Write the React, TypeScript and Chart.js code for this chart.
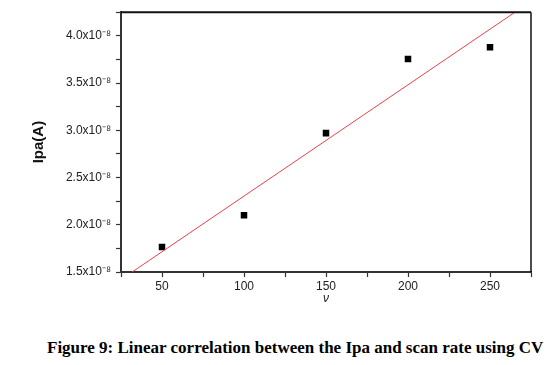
import React, { useEffect, useRef } from "react";
import { Chart, registerables } from "chart.js";

Chart.register(...registerables);

// scan rate ν (mV/s)
const scanRates = [50, 100, 150, 200, 250];
// Ipa in units of 1e-8 A
const ipaE8 = [1.765, 2.1, 2.97, 3.755, 3.88];
// linear fit line endpoints
const fitX = [25, 275];
const fitY = [1.42, 4.365];

const xTitle = "ν";
const yTitle = "Ipa(A)";
const caption = "Figure 9: Linear correlation between the Ipa and scan rate using CV";

const frame = {
  id: "frame",
  afterDraw(chart: any) {
    const { ctx, chartArea: a } = chart;
    ctx.save();
    ctx.strokeStyle = "#111";
    ctx.lineWidth = 2;
    ctx.beginPath();
    ctx.moveTo(a.left, a.top);
    ctx.lineTo(a.right, a.top);
    ctx.stroke();
    ctx.lineWidth = 1.5;
    ctx.beginPath();
    ctx.moveTo(a.right, a.top);
    ctx.lineTo(a.right, a.bottom);
    ctx.stroke();
    ctx.restore();
  },
};

export default function App() {
  const ref = useRef<HTMLCanvasElement>(null);
  useEffect(() => {
    if (!ref.current) return;
    const chart = new Chart(ref.current, {
      type: "scatter",
      data: {
        datasets: [
          {
            type: "line",
            data: fitX.map((x, i) => ({ x, y: fitY[i] })),
            borderColor: "#e8424c",
            borderWidth: 1,
            pointRadius: 0,
            clip: 0,
          } as any,
          {
            data: scanRates.map((x, i) => ({ x, y: ipaE8[i] })),
            pointStyle: "rect",
            pointRadius: 4.6,
            pointBorderWidth: 0,
            backgroundColor: "#000",
            borderColor: "#000",
          },
        ],
      },
      options: {
        animation: false,
        responsive: false,
        layout: { padding: { left: 30, top: 12, right: 19, bottom: 0 } },
        plugins: { legend: { display: false }, tooltip: { enabled: false } },
        scales: {
          x: {
            type: "linear",
            min: 25,
            max: 275,
            afterFit: (s: any) => { s.height = 34; },
            ticks: {
              stepSize: 25,
              autoSkip: false,
              maxRotation: 0,
              padding: 2,
              color: "#222",
              font: { family: "Liberation Sans, Arial", size: 12 },
              callback: (v: any) => (Number(v) % 50 === 0 ? String(v) : ""),
            },
            grid: { drawOnChartArea: false, tickLength: 5, color: "#333", tickWidth: 1.2 },
            border: { color: "#333", width: 2 },
            title: {
              display: true,
              text: xTitle,
              color: "#222",
              font: { family: "Liberation Sans, Arial", size: 12, style: "italic" },
              padding: 0,
            },
          },
          y: {
            type: "linear",
            min: 1.5,
            max: 4.25,
            afterFit: (s: any) => { s.width = 91; },
            ticks: {
              stepSize: 0.25,
              autoSkip: false,
              padding: 5,
              color: "#222",
              font: { family: "Liberation Sans, Arial", size: 12 },
              callback: (v: any) => {
                const n = Number(v);
                return Math.abs(n * 2 - Math.round(n * 2)) < 1e-6 ? n.toFixed(1) + "x10⁻⁸" : "";
              },
            },
            grid: { drawOnChartArea: false, tickLength: 5, color: "#333", tickWidth: 1.2 },
            border: { color: "#333", width: 2 },
            title: {
              display: true,
              text: yTitle,
              color: "#111",
              font: { family: "Liberation Sans, Arial", size: 15, weight: "bold" },
              padding: 0,
            },
          },
        },
      },
      plugins: [frame],
    });
    return () => chart.destroy();
  }, []);

  return (
    <div style={{ position: "absolute", left: 0, top: 0, width: 550, height: 365, background: "#fff" }}>
      <canvas ref={ref} width={550} height={306} style={{ position: "absolute", left: 0, top: 0 }} />
      <div
        style={{
          position: "absolute",
          left: 47,
          top: 338,
          fontFamily: "Liberation Serif, 'Times New Roman', serif",
          fontWeight: "bold",
          fontSize: 17,
          whiteSpace: "nowrap",
          color: "#000",
        }}
      >
        {caption}
      </div>
    </div>
  );
}
